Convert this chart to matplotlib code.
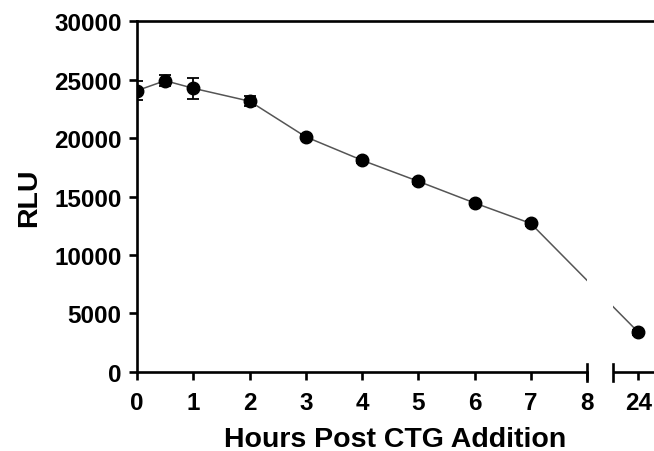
import numpy as np
import matplotlib
matplotlib.use("Agg")
import matplotlib.pyplot as plt

plt.rcParams['font.family'] = ['Liberation Sans', 'DejaVu Sans']

# Measured luminescence after CTG addition
hours = np.array([0, 0.5, 1, 2, 3, 4, 5, 6, 7, 24])
rlu = np.array([24050, 24900, 24250, 23150, 20100, 18100, 16300, 14450, 12700, 3400])
rlu_err = np.array([800, 450, 900, 400, 200, 200, 200, 200, 200, 200])

tick_hours = [0, 1, 2, 3, 4, 5, 6, 7, 8, 24]
tick_labels = ['0', '1', '2', '3', '4', '5', '6', '7', '8', '24']
y_ticks = [0, 5000, 10000, 15000, 20000, 25000, 30000]

# Broken x axis: 0-8 h linear, then a compressed segment holding 24 h
BREAK = 8.0
COMPRESS = 0.057
GAP_END = 8.457
X_RIGHT = 9.191


def to_axis(h):
    h = np.asarray(h, dtype=float)
    return np.where(h <= BREAK, h, BREAK + (h - BREAK) * COMPRESS)


fig = plt.figure(figsize=(6.54, 4.52), dpi=100)
ax = fig.add_axes([0.2095, 0.1748, 0.7905, 0.7765])

x = to_axis(hours)
ax.plot(x, rlu, color='#555555', lw=1.1, zorder=2)
ax.errorbar(x, rlu, yerr=rlu_err, fmt='o', color='black', ms=9,
            ecolor='black', elinewidth=1.3, capsize=4, capthick=1.3, zorder=3)

# blank the connecting line inside the break
ax.axvspan(BREAK, GAP_END, ymin=0.005, ymax=0.99, color='white', lw=0, zorder=2.5)

ax.set_xlim(0, X_RIGHT)
ax.set_ylim(0, 30000)

ax.set_xticks(to_axis(tick_hours))
ax.set_xticklabels(tick_labels)
ax.set_yticks(y_ticks)

ax.spines['right'].set_visible(False)
for s in ['left', 'bottom', 'top']:
    ax.spines[s].set_linewidth(1.9)
ax.spines['bottom'].set_bounds(0, BREAK)
ax.plot([GAP_END, X_RIGHT], [0, 0], color='black', lw=1.9, clip_on=False,
        zorder=4, solid_capstyle='butt')
for xb in (BREAK, GAP_END):
    ax.axvline(xb, ymin=-0.025, ymax=0.024, color='black', lw=1.9,
               clip_on=False, zorder=4)

ax.tick_params(axis='both', direction='out', length=6, width=1.9,
               labelsize=17.5, pad=5)
ax.tick_params(axis='x', pad=8)
for lab in ax.get_xticklabels() + ax.get_yticklabels():
    lab.set_fontweight('bold')

ax.set_xlabel('Hours Post CTG Addition', fontsize=20.5, fontweight='bold', labelpad=8)
ax.set_ylabel('RLU', fontsize=20.5, fontweight='bold', labelpad=9)

fig.savefig('out.png', dpi=100)
